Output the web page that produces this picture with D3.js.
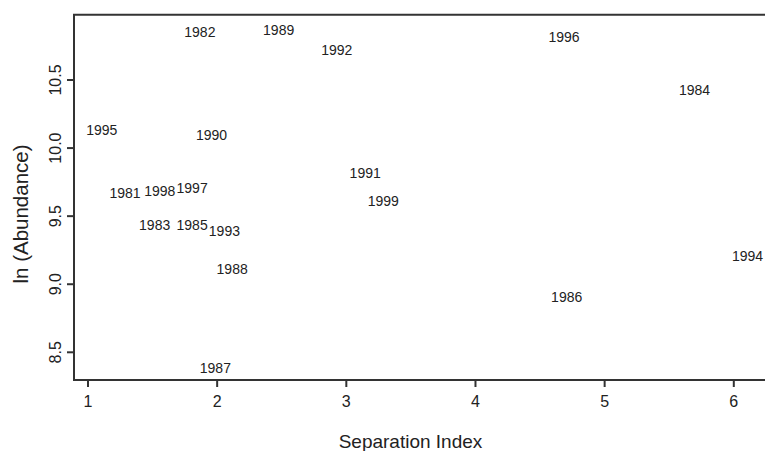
<!DOCTYPE html>
<html>
<head>
<meta charset="utf-8">
<script src="https://cdn.jsdelivr.net/npm/d3@7"></script>
<style>
  body { margin: 0; background: #fff; }
  svg { display: block; font-family: "Liberation Sans", Arial, Helvetica, sans-serif; }
</style>
</head>
<body>
<svg id="chart" width="765" height="451"></svg>
<script>
// year labels placed at (separation index, ln abundance)
const years = ["1981", "1982", "1983", "1984", "1985", "1986", "1987", "1988", "1989", "1990",
               "1991", "1992", "1993", "1994", "1995", "1996", "1997", "1998", "1999"];
const sepIndex = [1.29, 1.87, 1.52, 5.70, 1.81, 4.71, 1.99, 2.12, 2.48, 1.96,
                  3.15, 2.93, 2.06, 6.11, 1.11, 4.69, 1.81, 1.56, 3.29];
const lnAbund = [9.67, 10.85, 9.43, 10.42, 9.43, 8.90, 8.38, 9.11, 10.86, 10.09,
                 9.81, 10.72, 9.39, 9.20, 10.13, 10.81, 9.70, 9.68, 9.61];
const xTicks = [1, 2, 3, 4, 5, 6];
const yTicks = [8.5, 9.0, 9.5, 10.0, 10.5];

const svg = d3.select("#chart");
const axisColor = "#333";

const x = d3.scaleLinear().domain([1, 6]).range([87.5, 733.3]);
const y = d3.scaleLinear().domain([8.5, 10.5]).range([351.8, 79.5]);

const boxLeft = 74, boxTop = 14.7, boxBottom = 380, boxRight = 780;

// open box: top, left, bottom (right side is cut off)
svg.append("path")
    .attr("d", `M${boxRight},${boxTop}H${boxLeft}V${boxBottom}H${boxRight}`)
    .attr("fill", "none")
    .attr("stroke", axisColor)
    .attr("stroke-width", 2);

// x axis
const xAxis = svg.append("g")
    .attr("transform", `translate(0,${boxBottom})`)
    .call(d3.axisBottom(x).tickValues(xTicks).tickSize(7).tickPadding(9).tickFormat(d3.format("d")));
xAxis.select(".domain").remove();
xAxis.selectAll(".tick line").attr("stroke", axisColor).attr("stroke-width", 2);
xAxis.selectAll(".tick text")
    .attr("fill", "#222")
    .style("font-size", "16px")
    .style("font-family", "'Liberation Sans', Arial, sans-serif");

// y axis
const yAxis = svg.append("g")
    .attr("transform", `translate(${boxLeft},0)`)
    .call(d3.axisLeft(y).tickValues(yTicks).tickSize(7).tickFormat(d3.format(".1f")));
yAxis.select(".domain").remove();
yAxis.selectAll(".tick line").attr("stroke", axisColor).attr("stroke-width", 2);
yAxis.selectAll(".tick text")
    .attr("x", null).attr("dy", null)
    .attr("fill", "#222")
    .attr("text-anchor", "middle")
    .attr("dominant-baseline", "central")
    .attr("transform", "translate(-19,0) rotate(-90)")
    .style("font-size", "16px")
    .style("font-family", "'Liberation Sans', Arial, sans-serif");

// year labels
svg.append("g")
    .selectAll("text")
    .data(years)
    .enter().append("text")
    .attr("x", (d, i) => x(sepIndex[i]))
    .attr("y", (d, i) => y(lnAbund[i]))
    .attr("text-anchor", "middle")
    .attr("dominant-baseline", "central")
    .attr("fill", "#222")
    .style("font-size", "14px")
    .text(d => d);

// axis titles
svg.append("text")
    .attr("x", 410.5)
    .attr("y", 448)
    .attr("text-anchor", "middle")
    .attr("fill", "#222")
    .style("font-size", "19px")
    .text("Separation Index");

svg.append("text")
    .attr("transform", "translate(28,214) rotate(-90)")
    .attr("text-anchor", "middle")
    .attr("fill", "#222")
    .style("font-size", "20.5px")
    .text("ln (Abundance)");
</script>
</body>
</html>
